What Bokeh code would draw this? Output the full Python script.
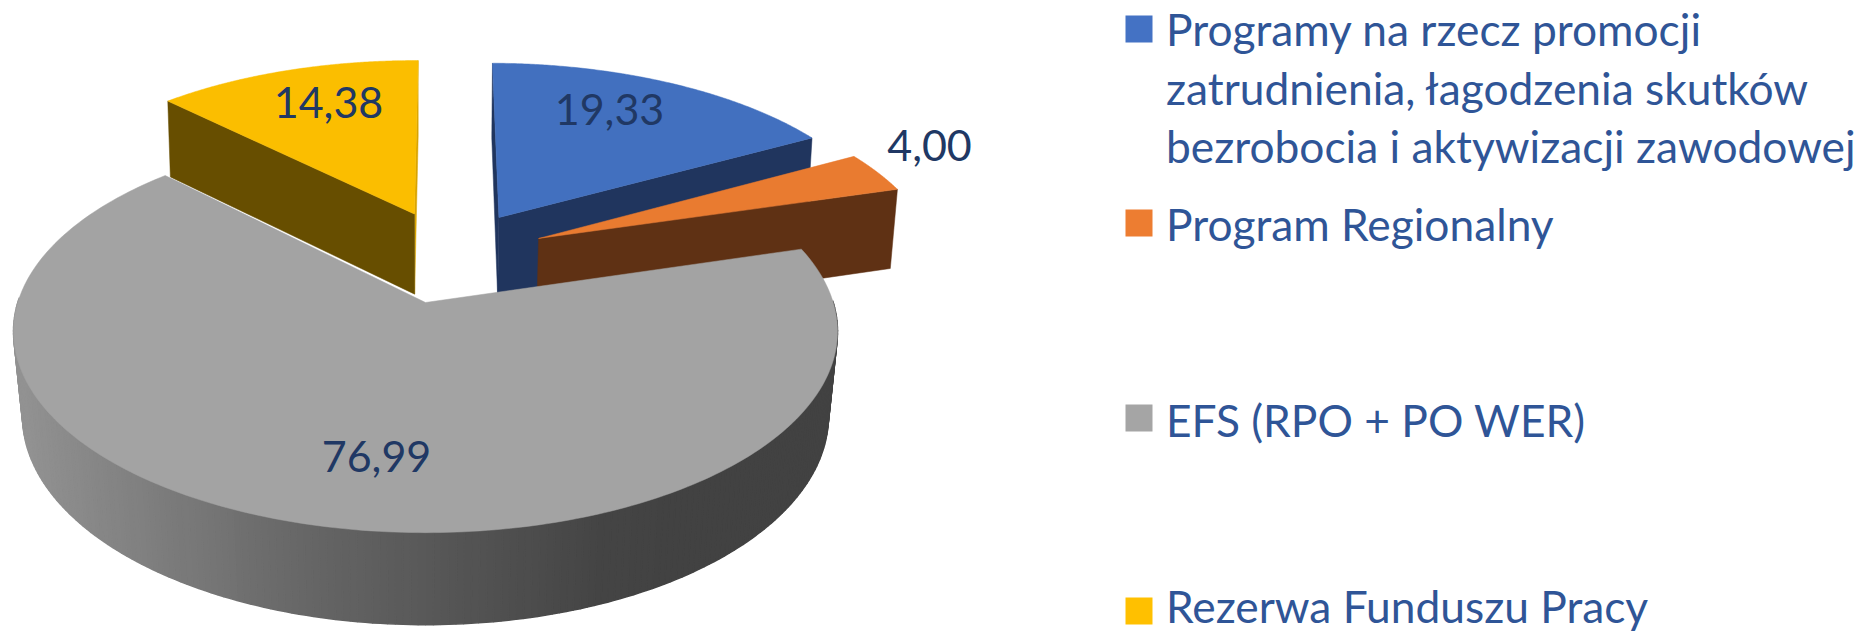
from bokeh.plotting import figure
from bokeh.models import Range1d
from bokeh.core.properties import value
from bokeh.embed import file_html
from bokeh.resources import INLINE
import numpy as np

# ---- data ----
categories = ["Programy na rzecz promocji zatrudnienia, łagodzenia skutków bezrobocia i aktywizacji zawodowej",
              "Program Regionalny", "EFS (RPO + PO WER)", "Rezerwa Funduszu Pracy"]
values = [19.33, 4.00, 76.99, 14.38]
value_labels = ["19,33", "4,00", "76,99", "14,38"]
top_colors = ["#4270BF", "#E97B30", "#A3A3A3", "#FBBE00"]
wall_colors = ["#20355E", "#5F3114", "#444444", "#674E00"]
legend_colors = ["#4472C4", "#ED7D31", "#A5A5A5", "#FFC000"]
legend_lines = [["Programy na rzecz promocji", "zatrudnienia, łagodzenia skutków", "bezrobocia i aktywizacji zawodowej"],
                ["Program Regionalny"], ["EFS (RPO + PO WER)"], ["Rezerwa Funduszu Pracy"]]

# ---- 3-D pie geometry (perspective, in page pixels) ----
CX, CY, R, RB, K = 425.0, 302.0, 407.7, 197.0, 0.144
FIRST_ANGLE = 0.4
EXPLODED_RADIUS = 1.012
explode = [(0.192, 0.460), (0.291, 0.341), (0.0, 0.0), (-0.029, 0.480)]
label_pos = [(609, 124), (929, 160), (376, 471), (328, 117.5)]
legend_sq_y = [28.5, 222.5, 417.5, 610.5]
legend_base = [[43, 102, 160], [238], [434], [620.5]]
TEXT_X, SQ_X, SQ = 1165.5, 1138.5, 27
FS_LEG, FS_LAB = "44.3px", "43px"
LEG_MID = 15.5   # middle of the x-height above the baseline
LAB_MID = 15.5   # middle of the digits above the baseline


def proj(X, Y):
    X, Y = np.asarray(X, float), np.asarray(Y, float)
    w = 1 + K * Y
    return CX + R * X / w, CY - RB * Y / w


def drop(sx, sy):
    v = (CY - sy) / RB
    s = 0.978 + 0.012 * np.clip(v, 0, 1)
    return CX + (sx - CX) * s, sy + 83.4 - 7.4 * v


def arc(a0, a1, off, r=1.0, n=160):
    a = np.radians(np.linspace(a0, a1, n))
    return off[0] + r * np.sin(a), off[1] + r * np.cos(a)


spans = 360 * np.array(values) / sum(values)
starts = FIRST_ANGLE + np.concatenate([[0], np.cumsum(spans)[:-1]])
ends = starts + spans

p = figure(width=1862, height=633, output_backend="svg", toolbar_location=None,
           x_range=Range1d(0, 1862), y_range=Range1d(633, 0), min_border=0,
           outline_line_color=None)
p.axis.visible = False
p.grid.visible = False


def quad(a, b, color):
    ax, ay = proj(*a)
    bx, by = proj(*b)
    ax2, ay2 = drop(ax, ay)
    bx2, by2 = drop(bx, by)
    p.patch([ax, bx, bx2, ax2], [ay, by, by2, ay2], fill_color=color, line_color=color, line_width=0.5)


def wall_ramp(x):
    g = np.interp(x, [23, 300, 600, 690], [0x92, 0x67, 0x45, 0x42])
    return "#%02x%02x%02x" % (int(g), int(g), int(g))


def tip(i, deg):
    a = np.radians(deg)
    off = explode[i]
    return off[0] + EXPLODED_RADIUS * np.sin(a), off[1] + EXPLODED_RADIUS * np.cos(a)


# yellow: inner right wall (sliver) then the cut wall; blue: thin left wall then the cut wall; orange: cut wall
quad(explode[3], tip(3, ends[3]), "#D9A400")
quad(explode[3], tip(3, starts[3]), wall_colors[3])
quad(explode[0], tip(0, starts[0]), wall_colors[0])
quad(explode[0], tip(0, ends[0]), wall_colors[0])
quad(explode[1], tip(1, ends[1]), wall_colors[1])

for i in [3, 0, 1]:
    ax, ay = arc(starts[i], ends[i], explode[i], EXPLODED_RADIUS)
    sx, sy = proj(np.r_[explode[i][0], ax], np.r_[explode[i][1], ay])
    p.patch(sx, sy, fill_color=top_colors[i], line_color=top_colors[i], line_width=0.5)

ax, ay = arc(starts[2], ends[2], explode[2], n=260)
sx, sy = proj(ax, ay)
bx, by = drop(sx, sy)
xs, ys, cs = [], [], []
for j in range(len(sx) - 1):
    xs.append([sx[j], sx[j + 1], bx[j + 1], bx[j]])
    ys.append([sy[j], sy[j + 1], by[j + 1], by[j]])
    cs.append(wall_ramp((sx[j] + sx[j + 1]) / 2))
keep = [j for j in range(len(xs)) if sy[j] > 300]
p.patches([xs[j] for j in keep], [ys[j] for j in keep], fill_color=[cs[j] for j in keep],
          line_color=[cs[j] for j in keep], line_width=1.5)
gx, gy = proj(np.r_[0, ax], np.r_[0, ay])
p.patch(gx, gy, fill_color=top_colors[2], line_color=top_colors[2], line_width=0.5)

p.text([q[0] for q in label_pos], [q[1] - LAB_MID for q in label_pos], text=value_labels,
       text_font=value("Lato"), text_font_size=value(FS_LAB), text_color="#203864",
       text_align="center", text_baseline="middle")

p.rect([SQ_X] * 4, legend_sq_y, width=SQ, height=SQ, fill_color=legend_colors, line_color=None)
tx, ty, tt = [], [], []
for lines, bases in zip(legend_lines, legend_base):
    for t, b in zip(lines, bases):
        tx.append(TEXT_X); ty.append(b - LEG_MID); tt.append(t)
p.text(tx, ty, text=tt, text_font=value("Lato"), text_font_size=value(FS_LEG), text_color="#2F5597",
       text_align="left", text_baseline="middle")

open("out.html", "w").write(file_html(p, INLINE))
